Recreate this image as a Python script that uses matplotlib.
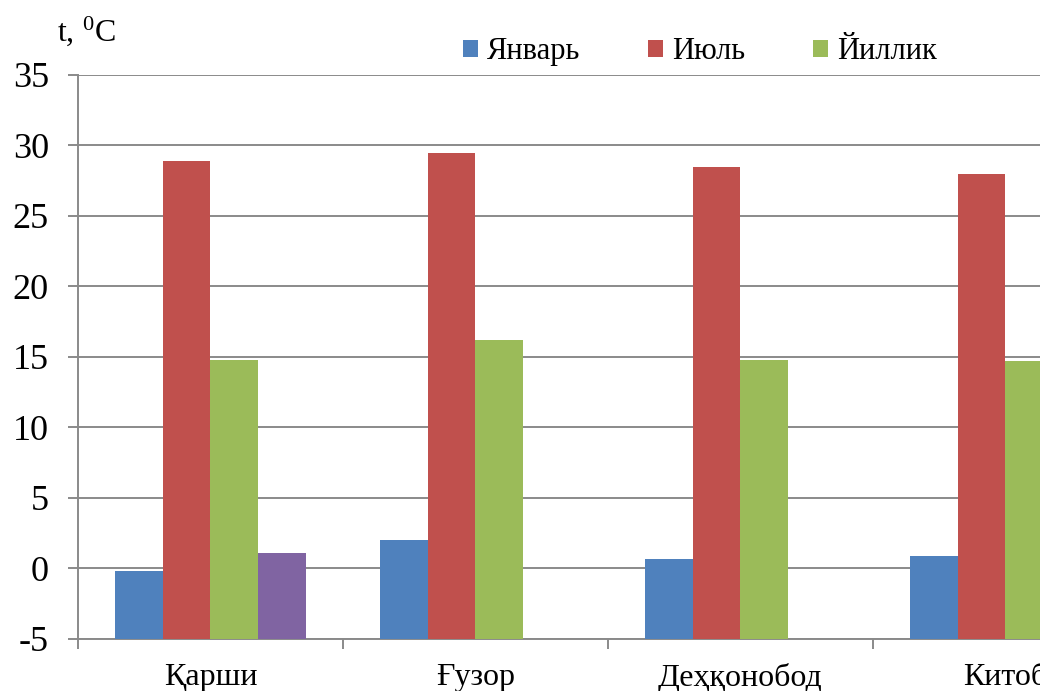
import numpy as np
import matplotlib
matplotlib.use("Agg")
import matplotlib.pyplot as plt

plt.rcParams['font.family'] = ['Liberation Serif', 'DejaVu Serif']
plt.rcParams['mathtext.fontset'] = 'custom'
plt.rcParams['mathtext.rm'] = 'Liberation Serif'
plt.rcParams['mathtext.default'] = 'regular'
plt.rcParams['axes.unicode_minus'] = False

# data
stations = ["Қарши", "Ғузор", "Деҳқонобод", "Китоб"]
january = [-0.2, 2.0, 0.7, 0.9]
july = [28.9, 29.5, 28.5, 28.0]
annual = [14.8, 16.2, 14.8, 14.7]
extra = [1.1, np.nan, np.nan, np.nan]
y_ticks = [-5, 0, 5, 10, 15, 20, 25, 30, 35]

series = [
    ("Январь", january, "#4F81BD"),
    ("Июль", july, "#C0504D"),
    ("Йиллик", annual, "#9BBB59"),
    (None, extra, "#8064A2"),
]

fig = plt.figure(figsize=(10.4, 6.91), dpi=100)
ax = fig.add_axes([0.075, 0.0753, 1.019, 0.8162])

x = np.arange(len(stations))
base = -5
width = 0.18
grid_col = "#8a8a8a"

for i, (name, vals, col) in enumerate(series):
    vals = np.array(vals, dtype=float)
    ax.bar(x + (i - 1.5) * width, vals - base, width, bottom=base,
           color=col, label=name if name else "_nolegend_", zorder=3)

ax.set_xlim(-0.5, len(stations) - 0.5)
ax.set_ylim(-5, 35)
ax.set_yticks(y_ticks)
ax.yaxis.grid(True, color=grid_col, linewidth=1.4, zorder=0)

for s in ["top", "right"]:
    ax.spines[s].set_visible(False)
for s in ["left", "bottom"]:
    ax.spines[s].set_color(grid_col)
    ax.spines[s].set_linewidth(1.4)

ax.tick_params(axis='y', labelsize=26, length=7, width=1.4, color=grid_col,
               pad=14, direction='out')

# category boundaries get tick marks, names sit in between
ax.set_xticks(np.arange(len(stations) + 1) - 0.5)
ax.set_xticklabels([])
ax.set_xticks(x, minor=True)
ax.set_xticklabels(stations, minor=True)
ax.tick_params(axis='x', which='major', length=7, width=1.4, color=grid_col)
ax.tick_params(axis='x', which='minor', length=0, labelsize=23, pad=17)

fig.text(0.055, 0.955, r"t, $^{0}$C", fontsize=23, va='center', ha='left')

fig.legend(loc='center', bbox_to_anchor=(0.673, 0.925), ncol=3, frameon=False,
           fontsize=22, handlelength=0.5, handleheight=0.5, handletextpad=0.3,
           columnspacing=2.2)

fig.savefig("out.png", dpi=100)
